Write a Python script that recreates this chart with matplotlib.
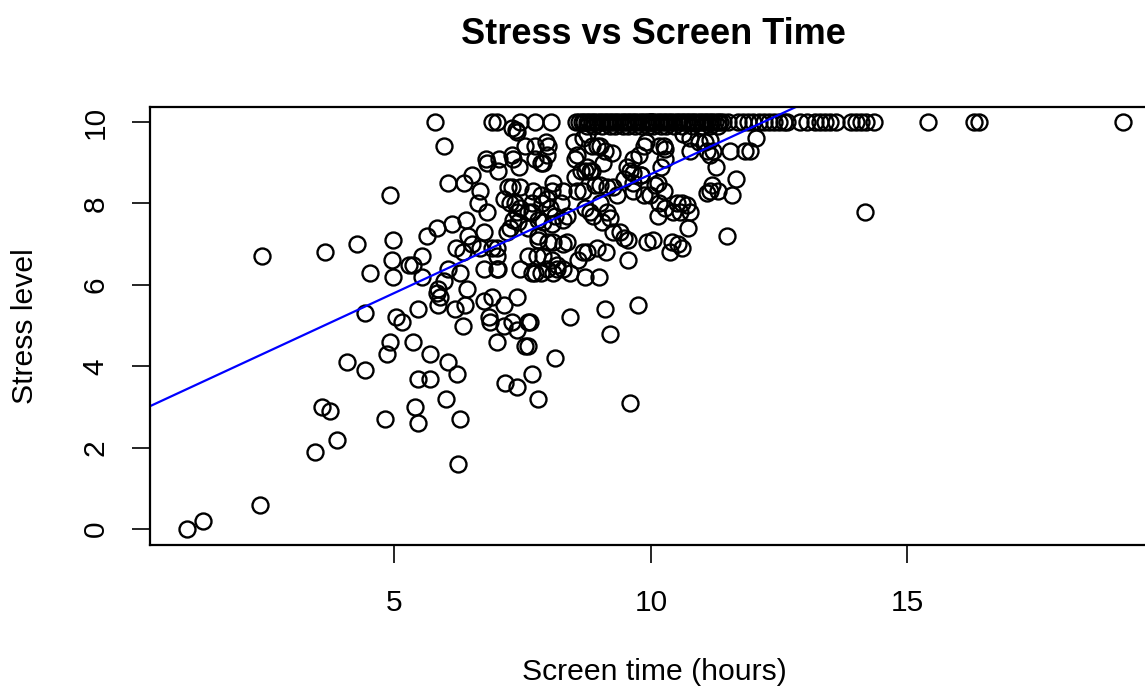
import numpy as np
import matplotlib
matplotlib.use("Agg")
import matplotlib.pyplot as plt

plt.rcParams['font.family'] = ['Liberation Sans', 'DejaVu Sans']

# stress == 10 row (ceiling)
top_time = [5.8, 6.9, 7.0, 7.45, 7.75, 8.05, 8.55, 8.6, 8.65, 8.7, 8.75, 8.8, 8.85, 8.9,
            8.95, 9.0, 9.05, 9.1, 9.15, 9.2, 9.25, 9.3, 9.35, 9.4, 9.45, 9.5, 9.55, 9.6,
            9.65, 9.7, 9.75, 9.8, 9.85, 9.9, 9.95, 10.0, 10.0, 10.0, 10.05, 10.1, 10.15,
            10.2, 10.25, 10.3, 10.35, 10.4, 10.45, 10.5, 10.55, 10.6, 10.65, 10.7, 10.75,
            10.8, 10.85, 10.9, 10.95, 11.0, 11.05, 11.1, 11.15, 11.2, 11.25, 11.3, 11.35,
            11.4, 11.5, 11.7, 11.8, 11.9, 12.0, 12.1, 12.2, 12.3, 12.4, 12.5, 12.6, 12.65,
            12.9, 13.05, 13.2, 13.3, 13.4, 13.5, 13.6, 13.9, 14.0, 14.1, 14.2, 14.35, 15.4,
            16.3, 16.4, 19.2]

# just under the ceiling
near_top_time = [7.3, 7.38, 7.4, 8.75, 8.9, 9.05, 9.2, 9.3, 9.45, 9.55, 9.7, 9.8, 9.95,
                 10.05, 10.2, 10.3, 10.45, 10.6, 10.8, 11.0, 11.15, 11.3]
near_top_stress = [9.85, 9.8, 9.75, 9.9, 9.9, 9.9, 9.9, 9.9, 9.9, 9.9, 9.9, 9.9, 9.9,
                   9.9, 9.9, 9.9, 9.9, 9.9, 9.9, 9.9, 9.9, 9.9]

# rest of the cloud (hours, stress)
cloud_time = [
    0.96, 1.28, 2.39, 3.46, 3.6, 3.75, 3.89, 4.82, 5.41, 5.47, 6.29, 6.25, 6.0, 7.81, 9.6,
    4.08, 4.43, 4.86, 4.92, 4.43, 5.04, 5.16, 5.37, 5.7, 6.05, 6.23, 5.47, 5.7, 7.16, 7.4, 7.69, 8.14,
    2.43, 3.65, 4.28, 4.53, 4.92, 4.98, 4.96, 4.98,
    5.28, 5.37, 5.55, 5.55, 5.86, 5.84, 5.9, 5.96, 6.05, 6.29, 6.42, 5.47, 5.86, 6.19, 6.38, 6.33,
    6.74, 7.0, 7.03, 7.0, 6.74, 6.91, 7.13, 7.4, 6.84, 6.87, 7.13, 7.3, 7.4, 7.6, 7.65, 7.0, 7.55, 7.6,
    7.45, 7.69, 7.75, 7.85, 7.98, 8.1, 8.18, 8.29, 8.43, 8.59, 8.72, 8.98,
    7.61, 7.79, 7.9, 8.08, 8.18, 8.43, 9.11, 9.21, 9.74, 9.56,
    5.96, 7.55, 7.75, 7.95, 8.0,
    6.79, 6.81, 7.05, 7.03, 7.3, 7.32, 7.44, 7.75, 7.85, 7.9, 7.98,
    8.5, 8.57, 8.67, 8.76, 9.0, 9.1, 9.25, 8.53, 9.07, 8.86, 8.96,
    9.66, 9.76, 9.86, 9.9, 9.54, 9.6, 9.66, 9.8, 9.86, 9.66, 9.35, 8.86, 8.76,
    6.05, 6.35, 6.52, 6.68, 6.64, 6.81, 6.4, 6.13, 5.84, 5.64,
    7.22, 7.3, 7.45, 7.13, 7.26, 7.36, 7.45, 7.69, 7.71, 7.85, 8.1, 8.08, 7.98, 8.29,
    8.53, 8.63, 8.72, 8.82, 8.92, 9.0, 9.15, 9.27, 8.57, 8.67, 8.72, 8.82, 8.88, 9.0, 9.15, 9.2,
    9.05, 9.27, 9.4, 9.47, 9.55,
    8.24, 7.6, 7.8, 8.08, 8.14, 8.29, 8.37, 7.4, 7.6, 7.32, 7.42, 7.69, 7.88, 8.04, 7.8, 7.9, 7.2, 7.26,
    6.74, 6.44, 6.52, 6.68, 6.9, 7.0, 6.2, 6.33, 7.81, 8.0, 8.1, 8.67, 8.76, 8.96, 9.12, 9.93, 8.29, 8.37,
    9.47, 9.66, 9.8,
    10.15, 10.28, 10.63, 10.77, 10.93, 11.06, 11.16, 10.77, 11.1, 11.16, 11.22, 11.55, 11.84, 11.94,
    12.04, 11.26, 10.19, 10.13, 10.09, 10.25, 11.2, 11.65, 11.1, 11.16, 11.3, 11.59, 9.99, 10.15,
    10.28, 10.5, 10.6, 10.7, 10.44, 10.57, 10.77, 10.13, 10.73, 10.05, 10.42, 10.53, 10.61, 10.38,
    11.49, 14.18, 10.25, 10.28,
]
cloud_stress = [
    0.0, 0.2, 0.6, 1.9, 3.0, 2.9, 2.2, 2.7, 3.0, 2.6, 2.7, 1.6, 3.2, 3.2, 3.1,
    4.1, 3.9, 4.3, 4.6, 5.3, 5.2, 5.1, 4.6, 4.3, 4.1, 3.8, 3.7, 3.7, 3.6, 3.5, 3.8, 4.2,
    6.7, 6.8, 7.0, 6.3, 8.2, 7.1, 6.6, 6.2,
    6.5, 6.5, 6.7, 6.2, 5.9, 5.8, 5.7, 6.1, 6.4, 6.3, 5.9, 5.4, 5.5, 5.4, 5.5, 5.0,
    6.4, 6.4, 6.4, 6.7, 5.6, 5.7, 5.5, 5.7, 5.2, 5.1, 5.0, 5.1, 4.9, 5.1, 5.1, 4.6, 4.5, 4.5,
    6.4, 6.3, 6.3, 6.3, 6.4, 6.3, 6.4, 6.4, 6.3, 6.6, 6.2, 6.2,
    6.7, 6.7, 6.7, 6.6, 6.5, 5.2, 5.4, 4.8, 5.5, 6.6,
    9.4, 9.4, 9.4, 9.5, 9.4,
    9.1, 9.0, 9.1, 8.8, 9.2, 9.1, 8.9, 9.1, 9.0, 9.0, 9.2,
    9.5, 9.2, 9.6, 9.7, 9.4, 9.3, 9.25, 9.1, 9.0, 9.4, 9.4,
    9.1, 9.2, 9.4, 9.5, 8.9, 8.8, 8.75, 8.7, 8.2, 8.3, 8.2, 8.8, 8.9,
    8.5, 8.5, 8.7, 8.3, 8.0, 7.8, 7.6, 7.5, 7.4, 7.2,
    8.4, 8.4, 8.4, 8.1, 8.0, 8.0, 7.9, 8.0, 8.3, 8.2, 8.5, 8.3, 8.1, 8.3,
    8.65, 8.8, 8.8, 8.8, 8.45, 8.45, 8.4, 8.4, 8.3, 8.3, 7.9, 7.8, 7.7, 8.0, 7.8, 7.65,
    7.55, 7.3, 7.3, 7.15, 7.1,
    8.0, 7.4, 7.2, 7.5, 7.7, 7.6, 7.7, 7.8, 7.8, 7.6, 7.55, 7.8, 8.0, 7.9, 7.6, 7.55, 7.3, 7.4,
    7.3, 7.2, 7.0, 6.9, 6.9, 6.9, 6.9, 6.8, 7.1, 7.05, 7.05, 6.8, 6.8, 6.9, 6.8, 7.05, 7.0, 7.05,
    8.6, 8.5, 8.7,
    9.4, 9.35, 9.7, 9.6, 9.5, 9.5, 9.55, 9.3, 9.3, 9.2, 9.3, 9.3, 9.3, 9.3,
    9.6, 8.9, 8.9, 8.5, 8.45, 8.3, 8.45, 8.6, 8.25, 8.3, 8.3, 8.2, 8.2, 8.0,
    7.9, 8.0, 8.0, 7.96, 7.8, 7.8, 7.8, 7.7, 7.4, 7.1, 7.05, 7.0, 6.9, 6.8,
    7.2, 7.8, 9.4, 9.1,
]

# lm(stress ~ screen time) as drawn
fit_intercept = 2.88
fit_slope = 0.584

screen_time = np.array(top_time + near_top_time + cloud_time)
stress = np.array([10.0] * len(top_time) + near_top_stress + cloud_stress)

fig = plt.figure(figsize=(11.45, 6.87), dpi=100)
# axes runs past the right edge, like the cropped original
ax = fig.add_axes([150 / 1145, 142 / 687, 1013 / 1145, 438 / 687])

ax.plot(screen_time, stress, 'o', ls='none', mfc='none', mec='black', ms=11.5, mew=1.7)

xs = np.array([0.0, 20.0])
ax.plot(xs, fit_intercept + fit_slope * xs, color='#0000ff', lw=1.6)

ax.set_xlim(0.24, 19.98)
ax.set_ylim(-0.39, 10.37)
ax.set_xticks([5, 10, 15])
ax.set_yticks([0, 2, 4, 6, 8, 10])
ax.tick_params(direction='out', length=13, width=1.2, labelsize=21.5)
ax.tick_params(axis='x', pad=19)
ax.tick_params(axis='y', pad=16)
for lab in ax.get_yticklabels():
    lab.set_rotation(90)
    lab.set_va('center')
for s in ax.spines.values():
    s.set_linewidth(1.6)

fig.text(653 / 1145, 1 - 35 / 687, 'Stress vs Screen Time', ha='center', va='center',
         fontsize=26, fontweight='bold')
fig.text(654 / 1145, 1 - 672 / 687, 'Screen time (hours)', ha='center', va='center', fontsize=21.7)
fig.text(25 / 1145, 1 - 326 / 687, 'Stress level', ha='center', va='center', fontsize=21.7,
         rotation=90)

fig.savefig('out.png', dpi=100)
